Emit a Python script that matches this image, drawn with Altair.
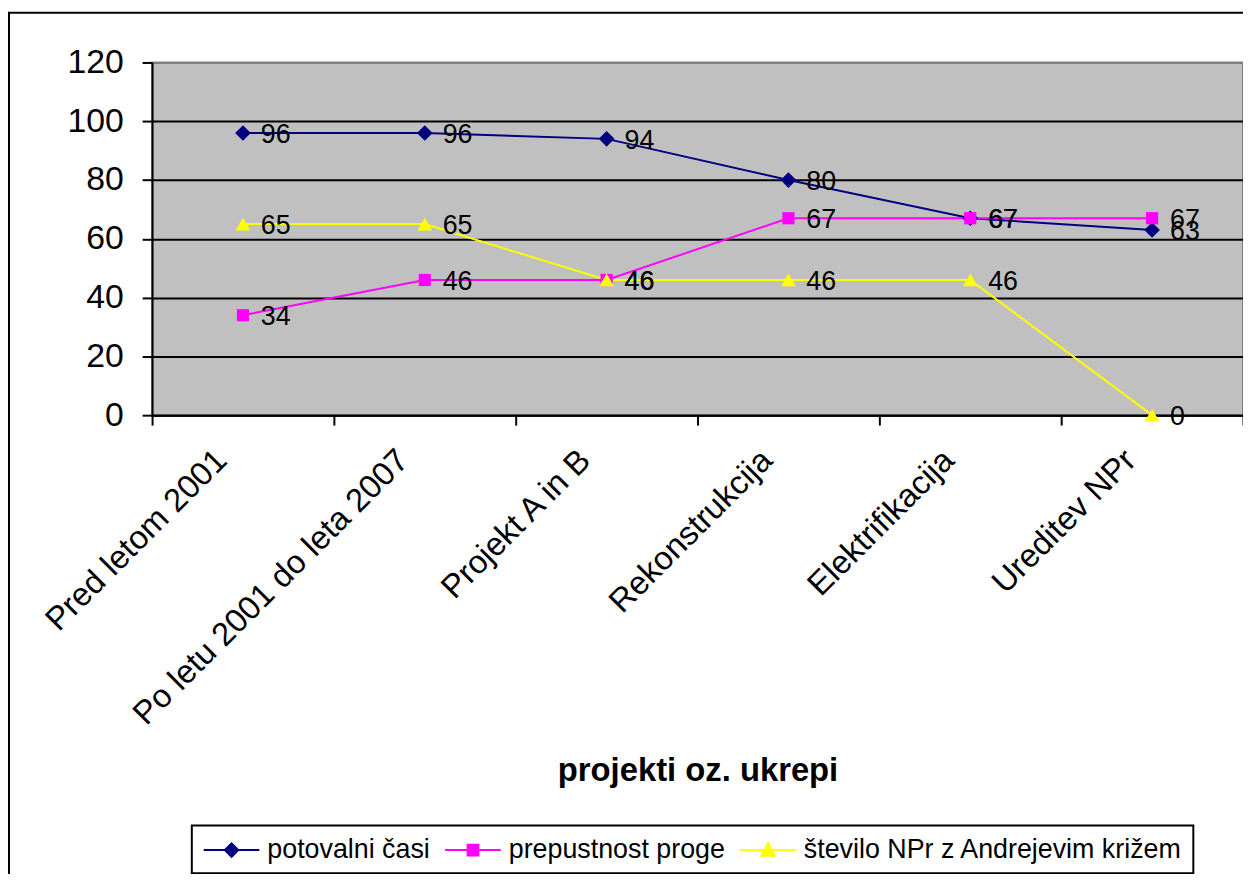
import altair as alt
import pandas as pd

categories = ["Pred letom 2001", "Po letu 2001 do leta 2007", "Projekt A in B",
              "Rekonstrukcija", "Elektrifikacija", "Ureditev NPr"]
series_names = ["potovalni časi", "prepustnost proge", "število NPr z Andrejevim križem"]
potovalni = [96, 96, 94, 80, 67, 63]
prepustnost = [34, 46, 46, 67, 67, 67]
stevilo = [65, 65, 46, 46, 46, 0]
y_ticks = [0, 20, 40, 60, 80, 100, 120]

colors = ["#000080", "#FF00FF", "#FFFF00"]
plot_shapes = ["diamond", "square", "triangle-up"]
plot_sizes = [250, 150, 220]
# legend glyphs: line segment with marker (unit = half of sqrt(symbolSize))
legend_shapes = [
    "M-0.93,0H3.22M1.15,-0.5L1.65,0L1.15,0.5L0.65,0Z",
    "M-0.93,0H3.22M0.75,-0.4H1.55V0.4H0.75Z",
    "M-0.93,0H3.22M1.15,-0.5L1.65,0.42L0.65,0.42Z",
]

rows = []
for name, vals in zip(series_names, [potovalni, prepustnost, stevilo]):
    for c, v in zip(categories, vals):
        rows.append({"kat": c, "serija": name, "vrednost": v, "oznaka": str(v)})
df = pd.DataFrame(rows)

FONT = "Liberation Sans"

xenc = alt.X("kat:N", sort=categories, bandPosition=0.5,
             scale=alt.Scale(type="band", paddingInner=0, paddingOuter=0),
             axis=alt.Axis(title="projekti oz. ukrepi", labelAngle=-45, labelAlign="right",
                           labelBaseline="middle", labelFontSize=33, labelFont=FONT,
                           labelColor="black", labelPadding=30, labelOffset=-22,
                           tickBand="extent", tickSize=10, tickColor="black", tickWidth=2,
                           domainColor="black", domainWidth=2, grid=False,
                           titleFont=FONT, titleFontSize=33, titleFontWeight="bold",
                           titleColor="black", titleBaseline="alphabetic", titleY=368,
                           labelLimit=600))
yenc = alt.Y("vrednost:Q", scale=alt.Scale(domain=[0, 120], nice=False),
             axis=alt.Axis(title=None, values=y_ticks, labelFontSize=34, labelFont=FONT,
                           labelColor="black", labelPadding=19, tickSize=10,
                           tickColor="black", tickWidth=2, domainColor="black",
                           domainWidth=2, grid=True, gridWidth=2,
                           gridColor=alt.condition("datum.value == 120",
                                                   alt.value("#808080"), alt.value("black"))))

base = alt.Chart(df)

layers = []
for name, col in zip(series_names, colors):
    layers.append(base.transform_filter(alt.datum.serija == name)
                  .mark_line(color=col, strokeWidth=2)
                  .encode(x=xenc, y=yenc))
for name, col, shp, sz in zip(series_names, colors, plot_shapes, plot_sizes):
    layers.append(base.transform_filter(alt.datum.serija == name)
                  .mark_point(shape=shp, filled=True, color=col, size=sz, opacity=1)
                  .encode(x=xenc, y=yenc))
for name in series_names:
    layers.append(base.transform_filter(alt.datum.serija == name)
                  .mark_text(align="left", baseline="middle", dx=18, dy=2,
                             font=FONT, fontSize=27, color="black")
                  .encode(x=xenc, y=yenc, text="oznaka:N"))

legend_layer = base.transform_filter("false").mark_point(filled=True, opacity=1).encode(
    x=xenc, y=yenc,
    fill=alt.Fill("serija:N", scale=alt.Scale(domain=series_names, range=colors),
                  legend=alt.Legend(title=None)),
    stroke=alt.Stroke("serija:N", scale=alt.Scale(domain=series_names, range=colors),
                      legend=alt.Legend(title=None)),
    shape=alt.Shape("serija:N", scale=alt.Scale(domain=series_names, range=legend_shapes),
                    legend=alt.Legend(title=None)),
)
layers.append(legend_layer)

border = alt.Chart(alt.Data(values=[{}]))
layers.append(border.mark_rule(color="black", strokeWidth=2).encode(
    x=alt.value(-144), y=alt.value(-50), y2=alt.value(900)))
layers.append(border.mark_rule(color="black", strokeWidth=2).encode(
    x=alt.value(-145), x2=alt.value(1200), y=alt.value(-50)))

chart = alt.layer(*layers).properties(
    width=1098, height=355,
    autosize=alt.AutoSizeParams(type="none"),
    padding={"left": 145, "top": 52, "right": 0, "bottom": 459},
    background="white",
).configure_view(
    fill="#C0C0C0", stroke="#808080", strokeWidth=2
).configure_legend(
    orient="none", legendX=40, legendY=768, direction="horizontal",
    strokeColor="black", strokeWidth=2, padding=10, columnPadding=10,
    labelOffset=37, symbolSize=729, symbolStrokeWidth=2,
    labelFont=FONT, labelFontSize=27, labelColor="black", labelLimit=800,
)

chart.save("out.html", embed_options={"renderer": "svg", "actions": False})
